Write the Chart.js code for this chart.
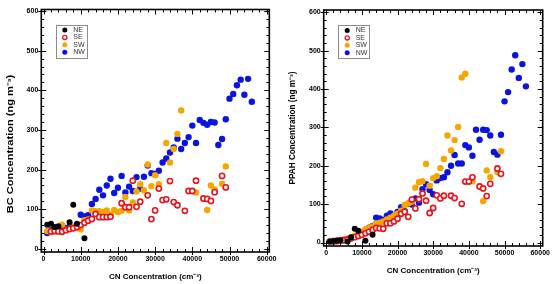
<!DOCTYPE html>
<html><head><meta charset="utf-8">
<script src="https://cdn.jsdelivr.net/npm/chart.js@4.4.0/dist/chart.umd.min.js"></script>
<style>
html,body{margin:0;padding:0;background:#fff;width:554px;height:284px;overflow:hidden}
canvas{position:absolute;top:0}
#c1{left:0}
#c2{left:277px}
</style></head><body>
<canvas id="c1" width="277" height="284" style="width:277px;height:284px"></canvas>
<canvas id="c2" width="277" height="284" style="width:277px;height:284px"></canvas>
<script>
// ---- data (CN concentration in cm^-3) ----
const seriesNames = ['NE','SE','SW','NW'];
const xTickValues = [0,10000,20000,30000,40000,50000,60000];
const yTickValues = [0,100,200,300,400,500,600];

const neX = [1000,2000,3000,4000,6000,7000,8000,9000,11000,13000];
const neBC = [61,63,55,57,null,67,111,63,27,null];
const nePPAH = [3,4,5,6,3,14,36,31,5,20];

const seX = [2000,3000,4000,5000,6000,7000,8000,9000,10000,11000,12000,13000,14000,15000,16000,17000,18000,19000,20000,21000,22000,23000,24000,25000,26000,27000,28000,29000,30000,31000,32000,33000,34000,35000,36000,38000,39000,40000,41000,43000,44000,45000,46000,48000,49000];
const seBC = [44,45,44,43,47,50,52,55,60,66,71,75,88,80,80,80,81,null,null,115,105,105,172,106,119,null,135,75,97,152,123,125,171,118,110,96,146,146,172,127,126,121,143,184,155];
const sePPAH = [3,4,5,6,8,11,14,17,20,24,28,33,38,37,36,50,50,55,62,75,80,67,112,89,113,128,109,77,90,123,115,122,null,122,116,101,159,159,170,146,141,121,153,193,179];

const swX = [1000,2000,3000,4000,5000,6000,7000,8000,9000,10000,11000,12000,13000,14000,15000,16000,17000,18000,19000,20000,21000,22000,23000,24000,25000,26000,27000,28000,29000,30000,31000,32000,33000,34000,35000,36000,37000,38000,39000,41000,44000,45000,46000,48000,49000];
const swBC = [45,42,44,45,61,48,50,55,53,49,72,74,97,95,95,93,97,87,98,93,96,131,97,117,145,163,148,213,158,186,163,null,267,218,252,290,349,null,null,142,98,160,150,164,208];
const swPPAH = [3,4,5,6,8,11,14,17,22,28,35,38,42,50,52,55,60,65,70,75,83,98,102,106,143,157,160,205,148,168,173,194,218,279,240,267,301,430,440,160,108,188,170,184,238];

const nwX = [1000,2000,3000,4000,5000,6000,7000,8000,9000,10000,11000,12000,13000,14000,15000,16000,17000,18000,19000,20000,21000,22000,23000,24000,25000,26000,27000,28000,29000,30000,31000,32000,33000,34000,35000,36000,37000,38000,39000,40000,41000,42000,43000,44000,45000,46000,47000,48000,49000,50000,51000,52000,53000,54000,55000,56000];
const nwBC = [40,47,48,50,51,53,56,55,57,86,82,85,113,126,149,135,160,177,141,154,184,142,157,146,181,152,182,210,191,189,197,218,228,243,256,278,252,267,282,311,267,325,318,313,320,319,262,277,327,379,391,413,427,389,429,371];
const nwPPAH = [3,4,5,6,7,9,12,15,18,26,30,39,43,65,63,59,70,76,63,80,92,82,101,99,115,104,139,152,137,126,162,168,170,183,200,228,206,206,254,248,226,294,268,294,293,279,236,229,281,368,392,451,488,429,465,407];

// ---- helpers ----
function pts(xs, ys){ const o=[]; xs.forEach((x,i)=>{ if(ys[i]!==null) o.push({x:x,y:ys[i]}); }); return o; }

const styles = {
  NE:{backgroundColor:'#000000',borderColor:'#000000',borderWidth:0,pointRadius:3},
  SE:{backgroundColor:'#ffffff',borderColor:'#e8141c',borderWidth:1.6,pointRadius:2.6},
  SW:{backgroundColor:'#f7a600',borderColor:'#f7a600',borderWidth:0,pointRadius:3.2},
  NW:{backgroundColor:'#0a14e0',borderColor:'#0a14e0',borderWidth:0,pointRadius:3.2}
};

function makeDatasets(vals){
  return seriesNames.map((n,i)=>Object.assign({label:n,data:pts(vals[i][0],vals[i][1]),pointHoverRadius:3,pointStyle:'circle'},styles[n]));
}

const FONT = '"Liberation Sans", Arial, sans-serif';

const framePlugin = {
  id:'frame',
  afterDatasetsDraw(chart){
    const {ctx, chartArea:a, scales:{x,y}} = chart;
    const g = chart.options.plugins.frame;
    ctx.save();
    ctx.strokeStyle='#000';
    ctx.lineWidth=1;
    ctx.beginPath();
    for(let v=0; v<=600; v+=20){
      const py=Math.round(y.getPixelForValue(v))+0.5;
      const major=v%100===0, inL=major?5:3;
      ctx.moveTo(a.left-(major?3:0),py); ctx.lineTo(a.left+inL,py);
      ctx.moveTo(a.right-inL,py); ctx.lineTo(a.right,py);
    }
    for(let v=0; v<=60000; v+=2000){
      const px=Math.round(x.getPixelForValue(v))+0.5;
      const major=v%10000===0, inL=major?5:3;
      ctx.moveTo(px,a.bottom+(major?3:0)); ctx.lineTo(px,a.bottom-inL);
      ctx.moveTo(px,a.top); ctx.lineTo(px,a.top+inL);
    }
    ctx.stroke();
    ctx.lineWidth=1.6;
    ctx.strokeRect(a.left,a.top,a.right-a.left,a.bottom-a.top);
    // legend
    const bx=a.left+14.5, by=a.top+15, bw=31, bh=33;
    ctx.fillStyle='#fff'; ctx.fillRect(bx,by,bw,bh);
    ctx.lineWidth=1; ctx.strokeStyle='#8c8c8c';
    ctx.strokeRect(Math.round(bx)+0.5,Math.round(by)+0.5,bw,bh);
    ctx.font='7px '+FONT;
    ctx.textBaseline='middle'; ctx.textAlign='left';
    chart.data.datasets.forEach((d,i)=>{
      const cy=by+5.5+i*7.4, cx=bx+9;
      ctx.beginPath(); ctx.arc(cx,cy,d.borderWidth>0?2.1:2.5,0,Math.PI*2);
      ctx.fillStyle=d.backgroundColor; ctx.fill();
      if(d.borderWidth>0){ctx.lineWidth=1.3; ctx.strokeStyle=d.borderColor; ctx.stroke();}
      ctx.fillStyle='#333'; ctx.fillText(d.label,bx+17.5,cy);
    });
    // y axis title
    ctx.translate(g.tx,g.ty); ctx.rotate(-Math.PI/2); ctx.scale(g.stretch,1);
    ctx.font='bold '+g.size+'px '+FONT;
    ctx.textAlign='center'; ctx.textBaseline='middle'; ctx.fillStyle='#000';
    ctx.fillText(g.title,0,0);
    ctx.restore();
  }
};

function makeChart(id, vals, yTitle, geo){
  return new Chart(document.getElementById(id),{
    type:'scatter',
    data:{datasets:makeDatasets(vals)},
    plugins:[framePlugin],
    options:{
      responsive:false, animation:false, events:[],
      layout:{padding:{left:0,top:geo.top,right:geo.right,bottom:0}},
      plugins:{legend:{display:false},tooltip:{enabled:false},
        frame:{title:yTitle,tx:geo.tx,ty:geo.ty,size:geo.tsize,stretch:geo.stretch}},
      scales:{
        x:{type:'linear',min:geo.xmin,max:geo.xmax,
          grid:{display:false,drawTicks:false},border:{display:false},
          afterBuildTicks:s=>{s.ticks=xTickValues.map(v=>({value:v}));},
          afterFit:s=>{s.height=geo.xh; s.paddingLeft=0; s.paddingRight=0;},
          ticks:{color:'#000',font:{family:FONT,size:7,weight:'bold'},padding:geo.xpad,maxRotation:0,autoSkip:false,callback:v=>String(v)},
          title:{display:true,text:'CN Concentration (cm⁻³)',color:'#000',font:{family:FONT,size:8,weight:'bold'},padding:{top:0,bottom:geo.xtpad}}
        },
        y:{type:'linear',min:geo.ymin,max:geo.ymax,
          grid:{display:false,drawTicks:false},border:{display:false},
          afterBuildTicks:s=>{s.ticks=yTickValues.map(v=>({value:v}));},
          afterFit:s=>{s.width=geo.yw; s.paddingTop=0; s.paddingBottom=0;},
          ticks:{color:'#000',font:{family:FONT,size:7,weight:'bold'},padding:geo.ypad,callback:v=>String(v)},
          title:{display:false}
        }
      }
    }
  });
}

makeChart('c1',[[neX,neBC],[seX,seBC],[swX,swBC],[nwX,nwBC]],'BC Concentration (ng m⁻³)',
  {top:9.5,right:7.7,xmin:-600,xmax:60700,ymin:-8,ymax:604,xh:32,yw:41.3,xpad:3,xtpad:2.2,ypad:3,
   tx:10.5,ty:144,tsize:8.5,stretch:1.3});
makeChart('c2',[[neX,nePPAH],[seX,sePPAH],[swX,swPPAH],[nwX,nwPPAH]],'PPAH Concentration (ng m⁻³)',
  {top:10,right:11.3,xmin:-700,xmax:60700,ymin:-9,ymax:606,xh:38,yw:46.7,xpad:3,xtpad:8.7,ypad:3,
   tx:15.5,ty:128,tsize:8.2,stretch:1.0});
</script>
</body></html>
